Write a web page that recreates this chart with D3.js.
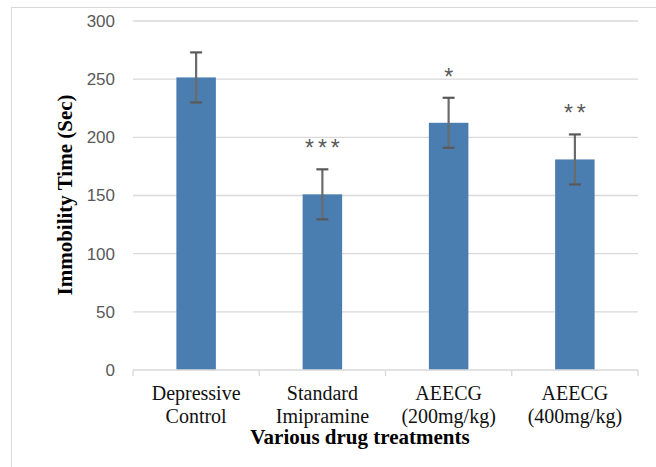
<!DOCTYPE html>
<html lang="en">

<head>
    <meta charset="UTF-8">
    <script src="https://cdn.jsdelivr.net/npm/d3@7/dist/d3.min.js"></script>
    <title>Immobility time</title>
    <style>
        body { margin: 0; background: #fff; }
    </style>
</head>

<body>
    <div id="chart"></div>
    <script>

        // data
        const groups = [
            ["Depressive", "Control"],
            ["Standard", "Imipramine"],
            ["AEECG", "(200mg/kg)"],
            ["AEECG", "(400mg/kg)"]
        ];
        const means = [251.5, 151, 212.5, 181];
        const errors = [21.5, 21.5, 21.5, 21.5];
        const stars = ["", "***", "*", "**"];
        const yTicks = [0, 50, 100, 150, 200, 250, 300];

        const W = 656, H = 467;
        const margin = { top: 21, right: 18, bottom: 97, left: 133 },
            width = W - margin.left - margin.right,
            height = H - margin.top - margin.bottom;

        const root = d3.select("#chart")
            .append("svg")
            .attr("width", W)
            .attr("height", H);

        // chart area border
        root.append("rect")
            .attr("x", 11.5).attr("y", 7.5)
            .attr("width", W).attr("height", H)
            .attr("fill", "none")
            .attr("stroke", "#d9d9d9")
            .attr("stroke-width", 1);

        const svg = root.append("g")
            .attr("transform", `translate(${margin.left},${margin.top})`);

        const x = d3.scaleBand()
            .domain(d3.range(groups.length))
            .range([0, width])
            .padding(0);

        const y = d3.scaleLinear()
            .domain([0, 300])
            .range([height, 0]);

        // gridlines
        svg.append("g")
            .selectAll("line")
            .data(yTicks.filter(d => d > 0))
            .join("line")
            .attr("x1", 0).attr("x2", width)
            .attr("y1", d => y(d)).attr("y2", d => y(d))
            .attr("stroke", "#d9d9d9")
            .attr("stroke-width", 1.3);

        // y axis labels
        const yAxis = svg.append("g")
            .call(d3.axisLeft(y).tickValues(yTicks).tickSize(0).tickPadding(18));
        yAxis.select(".domain").remove();
        yAxis.selectAll("text")
            .attr("font-family", "Liberation Sans, Arial, sans-serif")
            .attr("font-size", 17)
            .attr("fill", "#595959");

        const barW = 39.5;

        // bars
        svg.append("g")
            .selectAll("rect")
            .data(means)
            .join("rect")
            .attr("x", (d, i) => x(i) + x.bandwidth() / 2 - barW / 2)
            .attr("y", d => y(d))
            .attr("width", barW)
            .attr("height", d => height - y(d))
            .attr("fill", "#4a7eb0");

        // x axis
        const xAxis = svg.append("g")
            .attr("transform", `translate(0,${height})`);
        xAxis.append("line")
            .attr("x1", 0).attr("x2", width)
            .attr("y1", 0).attr("y2", 0)
            .attr("stroke", "#d9d9d9")
            .attr("stroke-width", 1.3);
        xAxis.selectAll(".tk")
            .data(d3.range(groups.length + 1))
            .join("line")
            .attr("class", "tk")
            .attr("x1", d => d * x.step()).attr("x2", d => d * x.step())
            .attr("y1", 0).attr("y2", 6)
            .attr("stroke", "#d9d9d9")
            .attr("stroke-width", 1.3);

        xAxis.selectAll(".lbl")
            .data(groups)
            .join("text")
            .attr("class", "lbl")
            .attr("text-anchor", "middle")
            .attr("font-family", "Liberation Serif, Times New Roman, serif")
            .attr("font-size", 20)
            .attr("fill", "#111")
            .selectAll("tspan")
            .data((d, i) => d.map(t => ({ t, i })))
            .join("tspan")
            .attr("x", d => x(d.i) + x.bandwidth() / 2)
            .attr("y", (d, j) => 30 + j * 23)
            .text(d => d.t);

        // error bars
        const eb = svg.append("g")
            .selectAll("g")
            .data(means)
            .join("g")
            .attr("transform", (d, i) => `translate(${x(i) + x.bandwidth() / 2},0)`);
        eb.append("line")
            .attr("y1", (d, i) => y(d + errors[i]))
            .attr("y2", (d, i) => y(d - errors[i]))
            .attr("stroke", "#6b6b6b")
            .attr("stroke-width", 2.2);
        eb.append("line")
            .attr("x1", -6).attr("x2", 6)
            .attr("y1", (d, i) => y(d + errors[i]))
            .attr("y2", (d, i) => y(d + errors[i]))
            .attr("stroke", "#595959")
            .attr("stroke-width", 2.2);
        eb.append("line")
            .attr("x1", -6).attr("x2", 6)
            .attr("y1", (d, i) => y(d - errors[i]))
            .attr("y2", (d, i) => y(d - errors[i]))
            .attr("stroke", "#595959")
            .attr("stroke-width", 2.2);

        // significance stars
        eb.append("text")
            .attr("text-anchor", "middle")
            .attr("dx", 2)
            .attr("y", (d, i) => y(d + errors[i]) - 13)
            .attr("font-family", "Liberation Sans, Arial, sans-serif")
            .attr("font-size", 23)
            .attr("letter-spacing", 4)
            .attr("fill", "#595959")
            .text((d, i) => stars[i]);

        // axis titles
        root.append("text")
            .attr("x", 360)
            .attr("y", 444)
            .attr("text-anchor", "middle")
            .attr("font-family", "Liberation Serif, Times New Roman, serif")
            .attr("font-weight", "bold")
            .attr("font-size", 21)
            .attr("fill", "#000")
            .text("Various drug treatments");

        root.append("text")
            .attr("transform", "translate(72,195) rotate(-90)")
            .attr("text-anchor", "middle")
            .attr("font-family", "Liberation Serif, Times New Roman, serif")
            .attr("font-weight", "bold")
            .attr("font-size", 21)
            .attr("fill", "#000")
            .text("Immobility Time (Sec)");

    </script>
</body>

</html>
